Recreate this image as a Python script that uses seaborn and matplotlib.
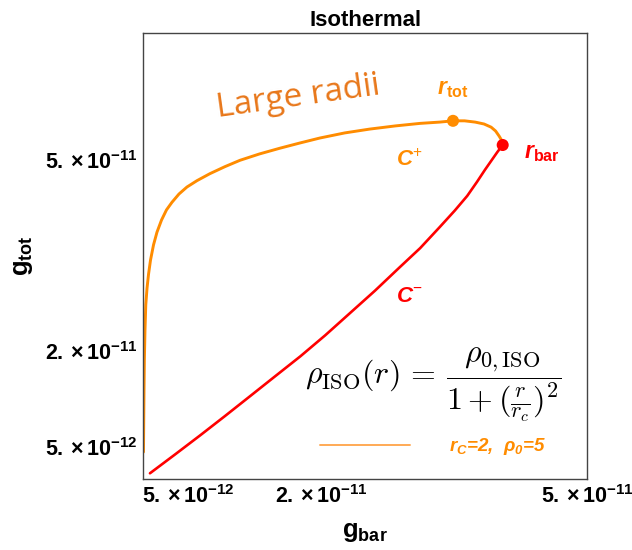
import numpy as np
import pandas as pd
import matplotlib
matplotlib.use("Agg")
import matplotlib.pyplot as plt
from matplotlib.lines import Line2D
import seaborn as sns

# g_bar / g_tot values along the two branches, in units of 1e-12
UNIT = 1e-12

c_plus_gbar = [0.02, 0.05, 0.08, 0.12, 0.19, 0.28, 0.42, 0.59, 0.81, 1.15,
               1.54, 2.05, 2.61, 3.23, 4.02, 4.92, 6.05, 7.51, 9.20, 10.9,
               13.1, 15.4, 17.6, 19.9, 22.7, 25.5, 28.4, 31.2, 33.4, 34.9,
               36.2, 37.4, 38.4, 39.2, 39.7, 40.1, 40.4, 40.5]
c_plus_gtot = [4.16, 9.19, 13.9, 18.6, 23.3, 27.3, 29.9, 32.1, 34.3, 36.7,
               38.7, 40.6, 42.2, 43.4, 44.7, 45.8, 46.8, 47.9, 49.0, 50.0,
               51.0, 51.9, 52.7, 53.5, 54.3, 54.9, 55.4, 55.8, 56.0, 56.2,
               56.2, 56.0, 55.7, 55.2, 54.6, 53.8, 53.1, 52.4]

c_minus_gbar = [0.75, 3.57, 6.39, 9.21, 12.0, 14.8, 17.7, 20.5, 23.3, 26.1,
                28.9, 31.2, 33.4, 35.1, 36.5, 37.6, 38.5, 39.3, 39.9, 40.5]
c_minus_gtot = [0.82, 3.77, 6.76, 9.82, 12.9, 16.0, 19.2, 22.5, 26.0, 29.5,
                33.2, 36.2, 39.5, 42.1, 44.4, 46.6, 48.5, 50.1, 51.3, 52.4]

r_tot_point = (34.9, 56.2)
r_bar_point = (40.5, 52.4)

x_ticks = [5, 20, 50]
y_ticks = [5, 20, 50]
x_tick_labels = [r"$\mathbf{5.\times10^{-12}}$", r"$\mathbf{2.\times10^{-11}}$", r"$\mathbf{5.\times10^{-11}}$"]
y_tick_labels = [r"$\mathbf{5.\times10^{-12}}$", r"$\mathbf{2.\times10^{-11}}$", r"$\mathbf{5.\times10^{-11}}$"]

ORANGE = "#FF8C00"
RED = "#FF0000"

sns.set_style("white")
plt.rcParams["font.family"] = ["Liberation Sans", "DejaVu Sans"]
plt.rcParams["mathtext.fontset"] = "custom"
plt.rcParams["mathtext.rm"] = "Liberation Sans"
plt.rcParams["mathtext.it"] = "Liberation Sans:italic"
plt.rcParams["mathtext.bf"] = "Liberation Sans:bold"
plt.rcParams["mathtext.bfit"] = "Liberation Sans:italic:bold"
for key in ["text.color", "axes.labelcolor", "xtick.color", "ytick.color", "axes.titlecolor"]:
    plt.rcParams[key] = "black"

fig = plt.figure(figsize=(6.32, 5.5), dpi=100)
ax = fig.add_axes([143.3 / 632, 71.5 / 550, 443.7 / 632, 445.5 / 550])

plus_df = pd.DataFrame({"gbar": np.array(c_plus_gbar) * UNIT, "gtot": np.array(c_plus_gtot) * UNIT})
minus_df = pd.DataFrame({"gbar": np.array(c_minus_gbar) * UNIT, "gtot": np.array(c_minus_gtot) * UNIT})

sns.lineplot(data=plus_df, x="gbar", y="gtot", sort=False, estimator=None,
             color=ORANGE, linewidth=2.1, ax=ax,
             solid_joinstyle="round", solid_capstyle="round")
sns.lineplot(data=minus_df, x="gbar", y="gtot", sort=False, estimator=None,
             color=RED, linewidth=1.9, ax=ax,
             solid_joinstyle="round", solid_capstyle="round")

pts = pd.DataFrame({"gbar": [r_tot_point[0] * UNIT, r_bar_point[0] * UNIT],
                    "gtot": [r_tot_point[1] * UNIT, r_bar_point[1] * UNIT],
                    "which": ["tot", "bar"]})
sns.scatterplot(data=pts, x="gbar", y="gtot", hue="which",
                palette={"tot": ORANGE, "bar": RED}, s=75, linewidth=0,
                legend=False, zorder=5, ax=ax)

ax.set_xlim(0, 50 * UNIT)
ax.set_ylim(0, 70 * UNIT)
ax.set_xticks([v * UNIT for v in x_ticks])
ax.set_xticklabels(x_tick_labels, fontsize=15.5)
ax.set_yticks([v * UNIT for v in y_ticks])
ax.set_yticklabels(y_tick_labels, fontsize=15.5)
ax.tick_params(direction="in", length=5, width=1, color="#333333", pad=4.5)

for sp in ax.spines.values():
    sp.set_visible(True)
    sp.set_color("#444444")
    sp.set_linewidth(1.0)

ax.set_title("Isothermal", fontsize=16, fontweight="bold", pad=5)
ax.set_xlabel(r"$\mathbf{g}_{\mathbf{bar}}$", fontsize=18.5, labelpad=9)
ax.set_ylabel(r"$\mathbf{g}_{\mathbf{tot}}$", fontsize=18.5, labelpad=7)

# annotations
ax.text(0.349, 0.856, "Large radii", transform=ax.transAxes, fontsize=24,
        family="Open Sans", color="#E8771A", rotation=8, ha="center", va="center")
ax.annotate(r"$\mathbfit{r}_{\mathbf{tot}}$", xy=(453, 550 - 88), xycoords="figure pixels",
            color=ORANGE, fontsize=16.5, ha="center", va="center")
ax.annotate(r"$\mathbfit{r}_{\mathbf{bar}}$", xy=(542, 550 - 152), xycoords="figure pixels",
            color=RED, fontsize=16.5, ha="center", va="center")
ax.annotate(r"$\mathbfit{C}^{+}$", xy=(409, 550 - 160), xycoords="figure pixels",
            color=ORANGE, fontsize=16, ha="center", va="center")
ax.annotate(r"$\mathbfit{C}^{-}$", xy=(409, 550 - 297), xycoords="figure pixels",
            color=RED, fontsize=16, ha="center", va="center")

formula = ax.annotate(r"$\rho_{\mathrm{ISO}}(r)\,=\,\dfrac{\rho_{0,\mathrm{ISO}}}{1+(\frac{r}{r_c})^2}$",
                      xy=(433, 550 - 385), xycoords="figure pixels",
                      fontsize=23, ha="center", va="center", color="black")
formula.set_math_fontfamily("cm")

handle = Line2D([], [], color="#FFAA55", linewidth=1.4)
ax.legend([handle], [r"$\mathbfit{r}_{\mathbfit{C}}$=2,  $\mathbfit{\rho}_{\mathbfit{0}}$=5"],
          loc="center left", bbox_to_anchor=((320 - 143.3) / 443.7, (478.5 - 446.7) / 445.5),
          frameon=False, borderpad=0, borderaxespad=0, handlelength=4.8,
          handletextpad=2.1, labelcolor=ORANGE,
          prop={"family": "Liberation Sans", "weight": "bold", "style": "italic", "size": 13.5})

fig.savefig("out.png", dpi=100)
